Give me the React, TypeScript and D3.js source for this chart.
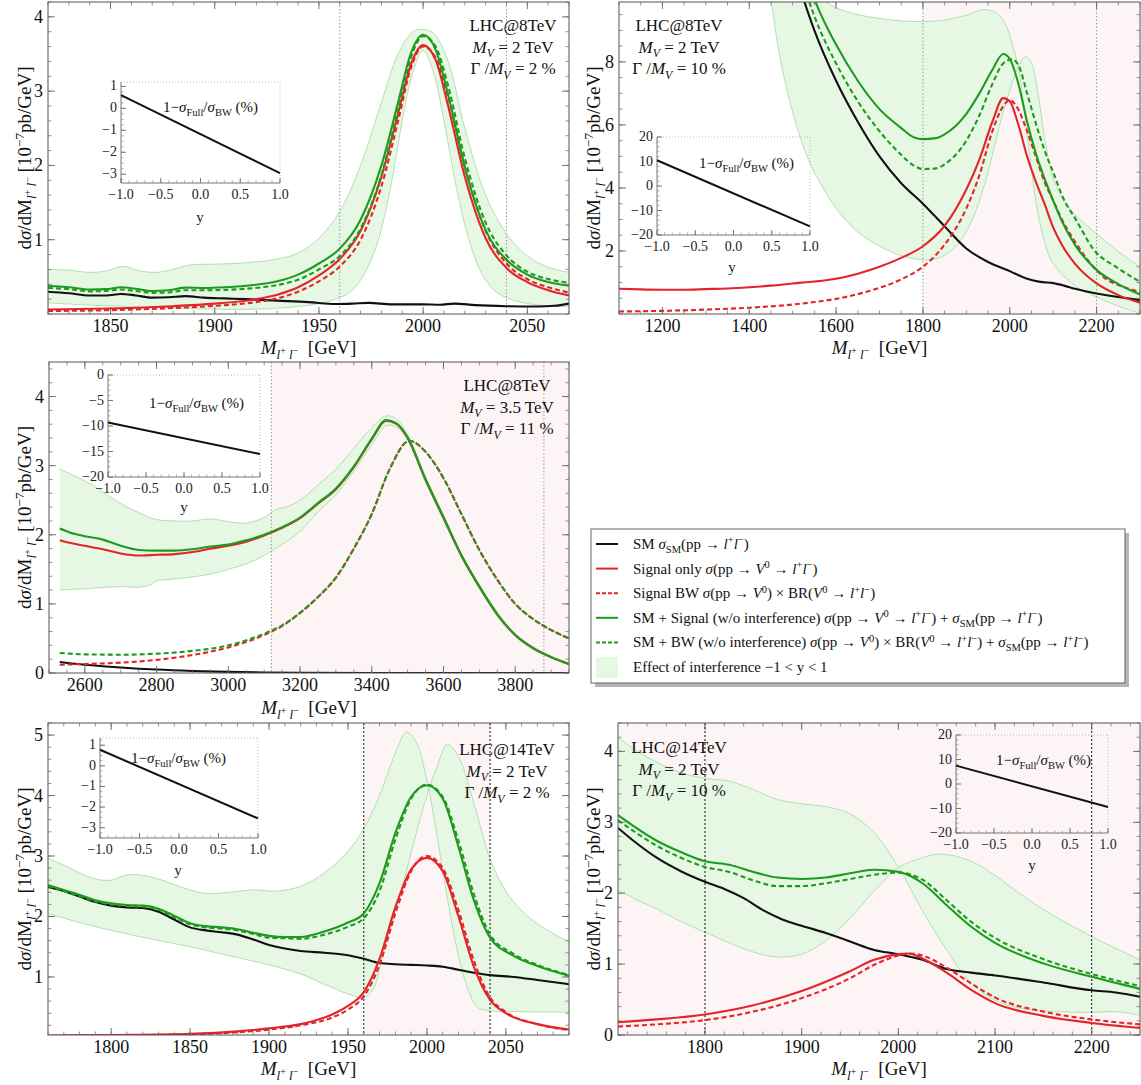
import React from 'react';
import * as d3 from 'd3';

type Pt = [number, number];
type Seg = { t: string; s?: 'sub' | 'sup' | 'ss'; i?: boolean };

const FONT = "'Liberation Serif', 'Times New Roman', serif";
const RED = '#e4232a';
const GREEN = '#1e9b1e';
const BLACK = '#111111';
const BAND_FILL = '#e6f8e4';
const BAND_STROKE = '#a9dca9';
const PINK = '#fdf5f5';

// ---------------- Panel 1: LHC@8TeV, MV=2TeV, 2% ----------------
const p1XTicks = [1850, 1900, 1950, 2000, 2050];
const p1YTicks = [1, 2, 3, 4];
const p1Black: Pt[] = [[1820,0.30],[1830,0.28],[1840,0.25],[1848,0.25],[1855,0.27],[1862,0.25],[1870,0.22],[1878,0.225],[1886,0.24],[1895,0.22],[1905,0.21],[1915,0.2],[1930,0.18],[1945,0.16],[1958,0.135],[1966,0.14],[1974,0.15],[1985,0.13],[2000,0.13],[2008,0.125],[2015,0.14],[2025,0.12],[2040,0.105],[2055,0.1],[2063,0.11],[2070,0.14]];
const p1Red: Pt[] = [[1820,0.06],[1850,0.075],[1880,0.105],[1900,0.14],[1920,0.2],[1930,0.26],[1940,0.36],[1950,0.52],[1960,0.74],[1970,1.12],[1980,1.85],[1988,2.7],[1994,3.35],[2000,3.62],[2006,3.42],[2012,2.8],[2020,1.85],[2030,1.02],[2040,0.62],[2050,0.43],[2060,0.32],[2070,0.25]];
const p1RedBW: Pt[] = [[1820,0.04],[1850,0.052],[1880,0.08],[1900,0.11],[1920,0.16],[1930,0.21],[1940,0.3],[1950,0.44],[1960,0.64],[1970,1.0],[1980,1.72],[1988,2.6],[1994,3.3],[2000,3.6],[2006,3.45],[2012,2.92],[2020,1.98],[2030,1.12],[2040,0.68],[2050,0.47],[2060,0.36],[2070,0.29]];
const p1Green: Pt[] = [[1820,0.38],[1830,0.36],[1840,0.33],[1848,0.335],[1855,0.36],[1862,0.34],[1870,0.31],[1878,0.32],[1886,0.355],[1895,0.35],[1905,0.36],[1915,0.38],[1930,0.44],[1940,0.53],[1950,0.68],[1960,0.88],[1970,1.27],[1980,2.0],[1988,2.85],[1994,3.5],[2000,3.76],[2006,3.56],[2012,2.95],[2020,1.98],[2030,1.13],[2040,0.73],[2050,0.53],[2060,0.43],[2070,0.38]];
const p1GreenBW: Pt[] = [[1820,0.35],[1830,0.335],[1840,0.305],[1848,0.31],[1855,0.33],[1862,0.31],[1870,0.285],[1878,0.29],[1886,0.32],[1895,0.32],[1905,0.325],[1915,0.34],[1930,0.39],[1940,0.46],[1950,0.6],[1960,0.78],[1970,1.15],[1980,1.87],[1988,2.75],[1994,3.44],[2000,3.74],[2006,3.6],[2012,3.07],[2020,2.1],[2030,1.23],[2040,0.79],[2050,0.57],[2060,0.47],[2070,0.42]];
const p1BandA: Pt[] = [[1820,0.6],[1830,0.59],[1840,0.56],[1848,0.58],[1856,0.64],[1864,0.58],[1872,0.56],[1880,0.6],[1888,0.66],[1900,0.67],[1915,0.69],[1930,0.74],[1940,0.82],[1950,1.02],[1960,1.38],[1970,2.0],[1980,2.85],[1988,3.5],[1995,3.8],[2000,3.83],[2005,3.78],[2012,3.4],[2020,2.5],[2030,1.6],[2040,1.08],[2050,0.78],[2060,0.63],[2070,0.56]];
const p1BandB: Pt[] = [[1820,0.15],[1840,0.12],[1860,0.1],[1880,0.08],[1900,0.065],[1920,0.065],[1940,0.1],[1950,0.14],[1960,0.22],[1966,0.32],[1972,0.55],[1978,0.95],[1984,1.65],[1990,2.6],[1995,3.25],[2000,3.55],[2005,3.25],[2010,2.6],[2016,1.7],[2022,1.0],[2028,0.55],[2034,0.32],[2040,0.22],[2050,0.14],[2060,0.11],[2070,0.1]];
const p1Inset = [0.6, -2.95];

// ---------------- Panel 2: LHC@8TeV, MV=2TeV, 10% ----------------
const p2XTicks = [1200, 1400, 1600, 1800, 2000, 2200];
const p2YTicks = [2, 4, 6, 8];
const p2Black: Pt[] = [[1500,11.2],[1525,10.0],[1550,9.0],[1600,7.4],[1650,6.1],[1700,5.0],[1750,4.15],[1800,3.5],[1850,2.78],[1900,2.08],[1950,1.65],[2000,1.36],[2040,1.12],[2070,1.02],[2100,0.98],[2125,0.9],[2150,0.8],[2200,0.65],[2250,0.54],[2300,0.44]];
const p2Red: Pt[] = [[1100,0.8],[1150,0.78],[1200,0.77],[1250,0.77],[1300,0.79],[1350,0.81],[1400,0.85],[1450,0.9],[1500,0.97],[1550,1.03],[1600,1.12],[1650,1.28],[1700,1.5],[1750,1.78],[1800,2.15],[1850,2.8],[1900,3.95],[1930,4.9],[1960,6.1],[1985,6.85],[2000,6.75],[2020,6.0],[2040,5.0],[2060,4.2],[2080,3.5],[2100,2.75],[2120,2.2],[2150,1.6],[2200,0.97],[2250,0.6],[2300,0.36]];
const p2RedBW: Pt[] = [[1100,0.08],[1200,0.1],[1300,0.14],[1400,0.2],[1500,0.3],[1550,0.38],[1600,0.48],[1650,0.63],[1700,0.83],[1750,1.1],[1800,1.5],[1850,2.2],[1900,3.35],[1930,4.4],[1960,5.8],[1985,6.6],[2000,6.78],[2015,6.6],[2040,5.8],[2060,5.0],[2080,4.2],[2100,3.6],[2120,3.0],[2150,2.3],[2200,1.38],[2225,1.08],[2250,0.92],[2300,0.7]];
const p2Green: Pt[] = [[1500,12.3],[1550,10.0],[1600,8.55],[1650,7.4],[1700,6.5],[1750,5.9],[1780,5.6],[1800,5.55],[1830,5.58],[1850,5.7],[1900,6.35],[1930,7.0],[1960,7.75],[1985,8.25],[2000,8.1],[2020,7.3],[2040,6.1],[2060,5.1],[2080,4.3],[2100,3.6],[2120,2.95],[2150,2.2],[2200,1.4],[2250,0.95],[2300,0.62]];
const p2GreenBW: Pt[] = [[1500,11.6],[1550,9.45],[1600,7.95],[1650,6.75],[1700,5.8],[1750,5.05],[1780,4.7],[1800,4.6],[1830,4.62],[1850,4.75],[1900,5.5],[1930,6.3],[1960,7.3],[1985,7.95],[2005,8.08],[2020,7.9],[2040,7.0],[2060,6.05],[2080,5.2],[2100,4.5],[2124,3.65],[2150,3.05],[2193,2.05],[2250,1.45],[2300,1.02]];
const p2BandA: Pt[] = [[1540,10.6],[1570,10.0],[1600,9.72],[1650,9.5],[1700,9.38],[1750,9.3],[1800,9.28],[1850,9.33],[1900,9.48],[1940,9.66],[1970,9.55],[1990,9.2],[2005,8.6],[2020,7.8],[2030,6.9],[2040,5.7],[2060,3.6],[2080,2.3],[2100,1.6],[2150,0.9],[2200,0.54],[2250,0.25],[2300,0.02]];
const p2BandB: Pt[] = [[1430,12.0],[1450,10.0],[1470,8.2],[1500,6.4],[1525,5.3],[1550,4.5],[1600,3.35],[1650,2.6],[1700,2.15],[1750,1.85],[1800,1.72],[1830,1.75],[1860,1.95],[1890,2.4],[1920,3.2],[1950,4.5],[1975,5.9],[2000,7.1],[2020,7.85],[2036,8.17],[2050,7.95],[2065,7.0],[2080,5.6],[2100,4.3],[2125,3.6],[2150,3.15],[2200,2.55],[2250,1.98],[2300,1.5]];
const p2Inset = [10.5, -16.5];

// ---------------- Panel 3: LHC@8TeV, MV=3.5TeV, 11% ----------------
const p3XTicks = [2600, 2800, 3000, 3200, 3400, 3600, 3800];
const p3YTicks = [0, 1, 2, 3, 4];
const p3Black: Pt[] = [[2530,0.16],[2600,0.12],[2700,0.08],[2800,0.05],[2900,0.03],[3000,0.016],[3100,0.008],[3200,0.004],[3400,0.001],[3950,0.0]];
const p3Red: Pt[] = [[2530,1.92],[2560,1.88],[2600,1.84],[2650,1.79],[2700,1.73],[2750,1.7],[2800,1.71],[2850,1.72],[2900,1.75],[2950,1.8],[3000,1.84],[3050,1.9],[3100,1.99],[3150,2.1],[3200,2.24],[3250,2.45],[3300,2.66],[3350,2.98],[3400,3.38],[3440,3.65],[3470,3.6],[3500,3.4],[3550,2.8],[3600,2.25],[3650,1.7],[3700,1.25],[3750,0.85],[3800,0.55],[3850,0.36],[3900,0.23],[3950,0.13]];
const p3RedBW: Pt[] = [[2530,0.12],[2600,0.13],[2700,0.15],[2800,0.19],[2900,0.26],[3000,0.37],[3100,0.55],[3150,0.68],[3200,0.87],[3250,1.1],[3300,1.38],[3350,1.8],[3400,2.3],[3450,2.95],[3505,3.36],[3550,3.2],[3600,2.82],[3650,2.3],[3700,1.78],[3750,1.35],[3800,1.0],[3850,0.78],[3880,0.68],[3950,0.5]];
const p3Green: Pt[] = [[2530,2.09],[2560,2.03],[2600,1.98],[2650,1.93],[2700,1.84],[2750,1.78],[2800,1.77],[2850,1.77],[2900,1.79],[2950,1.83],[3000,1.86],[3050,1.92],[3100,2.0],[3150,2.11],[3200,2.25],[3250,2.46],[3300,2.67],[3350,2.99],[3400,3.39],[3440,3.66],[3470,3.61],[3500,3.41],[3550,2.8],[3600,2.25],[3650,1.7],[3700,1.25],[3750,0.85],[3800,0.55],[3850,0.36],[3900,0.23],[3950,0.13]];
const p3GreenBW: Pt[] = [[2530,0.29],[2600,0.27],[2700,0.265],[2800,0.28],[2900,0.32],[3000,0.4],[3100,0.57],[3150,0.69],[3200,0.87],[3250,1.1],[3300,1.38],[3350,1.8],[3400,2.3],[3450,2.95],[3505,3.36],[3550,3.2],[3600,2.82],[3650,2.3],[3700,1.78],[3750,1.35],[3800,1.0],[3850,0.78],[3880,0.68],[3950,0.5]];
const p3BandA: Pt[] = [[2530,2.95],[2560,2.88],[2600,2.78],[2650,2.62],[2700,2.45],[2750,2.32],[2800,2.22],[2850,2.2],[2900,2.2],[2950,2.23],[3000,2.19],[3050,2.17],[3100,2.25],[3130,2.36],[3160,2.4],[3200,2.5],[3250,2.72],[3300,2.95],[3350,3.25],[3400,3.55],[3440,3.72],[3470,3.67],[3500,3.45],[3550,2.84],[3600,2.29],[3650,1.73],[3700,1.28],[3750,0.88],[3800,0.57],[3850,0.38],[3900,0.245],[3950,0.14]];
const p3BandB: Pt[] = [[2530,1.2],[2600,1.22],[2700,1.25],[2750,1.24],[2780,1.27],[2800,1.33],[2850,1.36],[2900,1.39],[2950,1.43],[3000,1.5],[3050,1.58],[3100,1.7],[3150,1.86],[3200,2.05],[3250,2.33],[3300,2.58],[3350,2.92],[3400,3.3],[3440,3.58],[3470,3.55],[3500,3.37],[3550,2.76],[3600,2.21],[3650,1.67],[3700,1.22],[3750,0.82],[3800,0.53],[3850,0.34],[3900,0.215],[3950,0.12]];
const p3Inset = [-9.3, -15.5];

// ---------------- Panel 4: LHC@14TeV, MV=2TeV, 2% ----------------
const p4XTicks = [1800, 1850, 1900, 1950, 2000, 2050];
const p4YTicks = [1, 2, 3, 4, 5];
const p4Black: Pt[] = [[1760,2.49],[1770,2.42],[1780,2.33],[1790,2.24],[1800,2.18],[1810,2.15],[1820,2.14],[1830,2.08],[1840,1.95],[1850,1.82],[1860,1.77],[1870,1.74],[1880,1.7],[1890,1.62],[1900,1.53],[1910,1.47],[1920,1.43],[1935,1.4],[1950,1.36],[1960,1.3],[1970,1.23],[1980,1.21],[1990,1.2],[2000,1.19],[2010,1.17],[2020,1.12],[2030,1.07],[2040,1.03],[2055,1.0],[2070,0.95],[2090,0.88]];
const p4Red: Pt[] = [[1760,0.03],[1800,0.04],[1850,0.06],[1880,0.1],[1900,0.15],[1920,0.22],[1940,0.38],[1950,0.52],[1960,0.75],[1970,1.3],[1980,2.15],[1990,2.78],[2000,2.97],[2010,2.75],[2020,2.0],[2030,1.15],[2040,0.62],[2050,0.4],[2070,0.22],[2090,0.13]];
const p4RedBW: Pt[] = [[1760,0.02],[1800,0.03],[1850,0.05],[1880,0.085],[1900,0.13],[1920,0.2],[1940,0.33],[1950,0.46],[1960,0.68],[1970,1.2],[1980,2.05],[1990,2.75],[2000,3.0],[2010,2.8],[2020,2.1],[2030,1.25],[2040,0.66],[2050,0.42],[2070,0.22],[2090,0.12]];
const p4Green: Pt[] = [[1760,2.52],[1770,2.44],[1780,2.36],[1790,2.27],[1800,2.22],[1810,2.19],[1820,2.18],[1830,2.13],[1840,2.01],[1850,1.89],[1860,1.84],[1870,1.82],[1880,1.79],[1890,1.73],[1900,1.68],[1910,1.66],[1920,1.66],[1935,1.75],[1950,1.9],[1960,2.05],[1970,2.55],[1980,3.38],[1990,3.98],[2000,4.17],[2010,3.95],[2020,3.15],[2030,2.25],[2040,1.65],[2055,1.35],[2070,1.18],[2090,1.02]];
const p4GreenBW: Pt[] = [[1760,2.5],[1770,2.42],[1780,2.34],[1790,2.25],[1800,2.2],[1810,2.17],[1820,2.16],[1830,2.11],[1840,1.99],[1850,1.87],[1860,1.82],[1870,1.8],[1880,1.77],[1890,1.71],[1900,1.65],[1910,1.64],[1920,1.63],[1935,1.7],[1950,1.83],[1960,1.97],[1970,2.42],[1980,3.27],[1990,3.95],[2000,4.18],[2010,3.98],[2020,3.25],[2030,2.35],[2040,1.7],[2055,1.38],[2070,1.2],[2090,1.03]];
const p4BandA: Pt[] = [[1760,2.96],[1770,2.85],[1780,2.72],[1790,2.62],[1800,2.6],[1810,2.69],[1820,2.68],[1830,2.62],[1845,2.48],[1860,2.38],[1875,2.4],[1890,2.44],[1905,2.42],[1920,2.5],[1935,2.72],[1950,3.08],[1960,3.45],[1970,4.0],[1980,4.7],[1987,5.05],[1993,4.9],[2000,4.25],[2006,3.4],[2012,2.45],[2020,1.35],[2026,0.8],[2032,0.5],[2040,0.44],[2055,0.43],[2070,0.42],[2090,0.42]];
const p4BandB: Pt[] = [[1760,2.05],[1780,1.9],[1800,1.77],[1825,1.63],[1850,1.5],[1875,1.35],[1900,1.2],[1920,1.05],[1935,0.88],[1950,0.72],[1960,0.66],[1966,0.8],[1972,1.35],[1980,2.1],[1987,2.75],[1994,3.45],[2000,4.0],[2006,4.45],[2013,4.85],[2020,4.65],[2030,3.85],[2040,2.95],[2050,2.42],[2060,2.1],[2070,1.88],[2080,1.72],[2090,1.58]];
const p4Inset = [0.78, -2.55];

// ---------------- Panel 5: LHC@14TeV, MV=2TeV, 10% ----------------
const p5XTicks = [1800, 1900, 2000, 2100, 2200];
const p5YTicks = [0, 1, 2, 3, 4];
const p5Black: Pt[] = [[1710,2.92],[1725,2.75],[1750,2.5],[1775,2.31],[1800,2.16],[1820,2.06],[1840,1.93],[1860,1.76],[1880,1.63],[1900,1.54],[1925,1.44],[1950,1.32],[1975,1.2],[2000,1.14],[2025,1.06],[2050,0.93],[2075,0.88],[2100,0.84],[2150,0.74],[2200,0.63],[2225,0.6],[2250,0.54]];
const p5Red: Pt[] = [[1710,0.18],[1750,0.22],[1800,0.29],[1850,0.42],[1900,0.62],[1950,0.9],[1975,1.06],[2000,1.14],[2010,1.15],[2025,1.08],[2050,0.88],[2075,0.64],[2100,0.45],[2150,0.27],[2200,0.17],[2250,0.1]];
const p5RedBW: Pt[] = [[1710,0.12],[1750,0.15],[1800,0.21],[1850,0.33],[1900,0.52],[1950,0.8],[1975,0.99],[2000,1.12],[2012,1.15],[2025,1.12],[2050,0.95],[2075,0.73],[2100,0.53],[2150,0.33],[2200,0.22],[2250,0.15]];
const p5Green: Pt[] = [[1710,3.1],[1750,2.74],[1775,2.58],[1800,2.45],[1825,2.4],[1850,2.3],[1875,2.22],[1900,2.2],[1925,2.22],[1950,2.28],[1975,2.33],[2000,2.3],[2025,2.14],[2050,1.83],[2075,1.53],[2100,1.3],[2150,1.01],[2200,0.82],[2250,0.65]];
const p5GreenBW: Pt[] = [[1710,3.03],[1750,2.67],[1775,2.5],[1800,2.37],[1825,2.3],[1850,2.18],[1875,2.1],[1900,2.1],[1925,2.14],[1950,2.2],[1975,2.26],[2000,2.29],[2025,2.19],[2050,1.9],[2075,1.6],[2100,1.37],[2150,1.07],[2200,0.86],[2250,0.69]];
const p5BandA: Pt[] = [[1710,4.2],[1730,4.0],[1750,3.85],[1775,3.7],[1800,3.62],[1825,3.58],[1850,3.46],[1875,3.32],[1900,3.26],[1925,3.22],[1950,3.12],[1975,2.85],[2000,2.37],[2025,1.75],[2050,1.2],[2075,0.73],[2100,0.49],[2125,0.38],[2150,0.34],[2200,0.32],[2225,0.33],[2250,0.28]];
const p5BandB: Pt[] = [[1710,2.05],[1730,1.9],[1750,1.78],[1775,1.6],[1800,1.45],[1825,1.3],[1850,1.17],[1875,1.1],[1900,1.14],[1925,1.33],[1950,1.65],[1975,2.03],[2000,2.36],[2025,2.5],[2040,2.55],[2060,2.52],[2080,2.42],[2100,2.25],[2125,2.0],[2150,1.77],[2200,1.39],[2250,1.06]];
const p5Inset = [7.5, -9.4];

const insetX = [-1, 1];
const insetXTicks = [-1, -0.5, 0, 0.5, 1];

// ---------------- text helpers ----------------
function Rich(props: { x: number; y: number; segs: Seg[]; size: number; anchor?: string; transform?: string; fill?: string }) {
  const { x, y, segs, size, anchor = 'start', transform, fill = '#111' } = props;
  let cur = 0;
  return (
    <text x={x} y={y} fontSize={size} textAnchor={anchor} transform={transform} fill={fill} fontFamily={FONT} style={{ whiteSpace: 'pre' }}>
      {segs.map((sg, k) => {
        const target = sg.s === 'sub' ? size * 0.27 : sg.s === 'sup' ? -size * 0.38 : sg.s === 'ss' ? size * 0.0 : 0;
        const dy = target - cur;
        cur = target;
        const fs = sg.s === 'ss' ? size * 0.52 : sg.s ? size * 0.7 : size;
        return (
          <tspan key={k} dy={dy} fontSize={fs} fontStyle={sg.i ? 'italic' : 'normal'}>{sg.t}</tspan>
        );
      })}
    </text>
  );
}

const xLabelSegs: Seg[] = [{ t: 'M', i: true }, { t: 'l', s: 'sub', i: true }, { t: '+', s: 'ss' }, { t: ' l', s: 'sub', i: true }, { t: '−', s: 'ss' }, { t: '  [GeV]' }];
const yLabelSegs: Seg[] = [{ t: 'd' }, { t: 'σ', i: true }, { t: '/dM' }, { t: 'l', s: 'sub', i: true }, { t: '+', s: 'ss' }, { t: ' l', s: 'sub', i: true }, { t: '−', s: 'ss' }, { t: ' [10' }, { t: '−7', s: 'sup' }, { t: 'pb/GeV]' }];
const insetLabelSegs: Seg[] = [{ t: '1−' }, { t: 'σ', i: true }, { t: 'Full', s: 'sub' }, { t: '/' }, { t: 'σ', i: true }, { t: 'BW', s: 'sub' }, { t: ' (%)' }];

function infoLines(energy: string, mass: string, width: string): Seg[][] {
  return [
    [{ t: energy }],
    [{ t: 'M', i: true }, { t: 'V', s: 'sub', i: true }, { t: ' = ' + mass }],
    [{ t: 'Γ /' }, { t: 'M', i: true }, { t: 'V', s: 'sub', i: true }, { t: ' = ' + width }],
  ];
}

const fmtY = (v: number) => (v < 0 ? '−' + Math.abs(v) : String(v));
const fmtX = (v: number) => (v < 0 ? '−' : '') + Math.abs(v).toFixed(1);

type InsetCfg = { L: number; T: number; R: number; B: number; yd: [number, number]; yTicks: number[]; yMinor: number; vals: number[]; lx: number; ly: number; yx: number; yy: number };

function Inset({ c }: { c: InsetCfg }) {
  const xs = d3.scaleLinear().domain([-1, 1]).range([c.L, c.R]);
  const ys = d3.scaleLinear().domain(c.yd).range([c.B, c.T]);
  const pts: Pt[] = insetX.map((x, i) => [x, c.vals[i]]);
  const ln = d3.line<Pt>().x(d => xs(d[0])).y(d => ys(d[1]));
  const yMin = d3.range(Math.ceil(c.yd[0] / c.yMinor) * c.yMinor, c.yd[1] + 1e-9, c.yMinor);
  const xMin = d3.range(-1, 1.0001, 0.1);
  return (
    <g>
      <line x1={c.L} x2={c.R} y1={c.T} y2={c.T} stroke="#bbb" strokeDasharray="1,2" />
      <line x1={c.R} x2={c.R} y1={c.T} y2={c.B} stroke="#bbb" strokeDasharray="1,2" />
      <line x1={c.L} x2={c.L} y1={c.T} y2={c.B} stroke="#777" />
      <line x1={c.L} x2={c.R} y1={c.B} y2={c.B} stroke="#777" />
      {yMin.map((v, k) => <line key={'ym' + k} x1={c.L} x2={c.L + 2.5} y1={ys(v)} y2={ys(v)} stroke="#888" strokeWidth={0.7} />)}
      {c.yTicks.map(v => <line key={'yt' + v} x1={c.L} x2={c.L + 5} y1={ys(v)} y2={ys(v)} stroke="#777" />)}
      {xMin.map((v, k) => <line key={'xm' + k} x1={xs(v)} x2={xs(v)} y1={c.B} y2={c.B - 2.5} stroke="#888" strokeWidth={0.7} />)}
      {insetXTicks.map(v => <line key={'xt' + v} x1={xs(v)} x2={xs(v)} y1={c.B} y2={c.B - 5} stroke="#777" />)}
      {c.yTicks.map(v => <text key={'yl' + v} x={c.L - 4} y={ys(v) + 4} fontSize={14} textAnchor="end" fontFamily={FONT} fill="#222">{fmtY(v)}</text>)}
      {insetXTicks.map(v => <text key={'xl' + v} x={xs(v)} y={c.B + 16} fontSize={14} textAnchor="middle" fontFamily={FONT} fill="#222">{fmtX(v)}</text>)}
      <path d={ln(pts) || ''} stroke={BLACK} strokeWidth={2} fill="none" />
      <Rich x={c.lx} y={c.ly} segs={insetLabelSegs} size={15} />
      <text x={c.yx} y={c.yy} fontSize={15} textAnchor="middle" fontFamily={FONT} fill="#222">y</text>
    </g>
  );
}

type PanelCfg = {
  id: string; L: number; T: number; R: number; B: number;
  xd: [number, number]; yd: [number, number];
  xTicks: number[]; xMinor: number; yTicks: number[]; yMinor: number;
  dotted: number[]; dark: boolean; pink?: [number, number];
  black: Pt[]; red: Pt[]; redBW: Pt[]; green: Pt[]; greenBW: Pt[]; bandA: Pt[]; bandB: Pt[];
  inset: InsetCfg; info: Seg[][]; infoX: number; infoY: number;
  yLabelX: number; xLabelY: number;
};

function Panel({ c }: { c: PanelCfg }) {
  const xs = d3.scaleLinear().domain(c.xd).range([c.L, c.R]);
  const ys = d3.scaleLinear().domain(c.yd).range([c.B, c.T]);
  const line = d3.line<Pt>().x(d => xs(d[0])).y(d => ys(d[1])).curve(d3.curveMonotoneX);
  const cr = d3.line<Pt>().x(d => xs(d[0])).y(d => ys(d[1])).curve(d3.curveCatmullRom.alpha(0.5));
  const pa = cr(c.bandA) || '';
  const pb = cr([...c.bandB].reverse()) || '';
  const bandPath = pa + 'L' + pb.slice(1) + 'Z';
  const xMin = d3.range(Math.ceil(c.xd[0] / c.xMinor) * c.xMinor, c.xd[1] + 1e-9, c.xMinor);
  const yMin = d3.range(Math.ceil(c.yd[0] / c.yMinor - 1e-9) * c.yMinor, c.yd[1] + 1e-9, c.yMinor);
  const clip = 'clip-' + c.id;
  const tick = '#666';
  const cy = (c.T + c.B) / 2;
  return (
    <g>
      <defs>
        <clipPath id={clip}><rect x={c.L} y={c.T} width={c.R - c.L} height={c.B - c.T} /></clipPath>
      </defs>
      <g clipPath={`url(#${clip})`}>
        {c.pink && <rect x={xs(c.pink[0])} y={c.T} width={xs(c.pink[1]) - xs(c.pink[0])} height={c.B - c.T} fill={PINK} />}
        <path d={bandPath} fill={BAND_FILL} stroke="none" />
        <path d={pa} fill="none" stroke={BAND_STROKE} strokeWidth={0.9} />
        <path d={cr(c.bandB) || ''} fill="none" stroke={BAND_STROKE} strokeWidth={0.9} />
        {c.dotted.map(v => (
          <line key={'d' + v} x1={xs(v)} x2={xs(v)} y1={c.T} y2={c.B} stroke={c.dark ? '#222' : '#999'} strokeWidth={c.dark ? 1.1 : 1} strokeDasharray={c.dark ? '2,2' : '1.5,2'} />
        ))}
        <path d={line(c.black) || ''} fill="none" stroke={BLACK} strokeWidth={2.1} />
        <path d={line(c.red) || ''} fill="none" stroke={RED} strokeWidth={2.1} />
        <path d={line(c.redBW) || ''} fill="none" stroke={RED} strokeWidth={2.1} strokeDasharray="5,3" />
        <path d={line(c.green) || ''} fill="none" stroke={GREEN} strokeWidth={2.1} />
        <path d={line(c.greenBW) || ''} fill="none" stroke={GREEN} strokeWidth={2.1} strokeDasharray="5,3" />
      </g>
      <rect x={c.L} y={c.T} width={c.R - c.L} height={c.B - c.T} fill="none" stroke="#555" strokeWidth={1} />
      {xMin.map((v, k) => (
        <g key={'xm' + k}>
          <line x1={xs(v)} x2={xs(v)} y1={c.B} y2={c.B - 3.5} stroke={tick} strokeWidth={0.7} />
          <line x1={xs(v)} x2={xs(v)} y1={c.T} y2={c.T + 3.5} stroke={tick} strokeWidth={0.7} />
        </g>
      ))}
      {c.xTicks.map(v => (
        <g key={'xt' + v}>
          <line x1={xs(v)} x2={xs(v)} y1={c.B} y2={c.B - 7} stroke={tick} strokeWidth={0.9} />
          <line x1={xs(v)} x2={xs(v)} y1={c.T} y2={c.T + 7} stroke={tick} strokeWidth={0.9} />
          <text x={xs(v)} y={c.B + 18} fontSize={18} textAnchor="middle" fontFamily={FONT} fill="#111">{v}</text>
        </g>
      ))}
      {yMin.map((v, k) => (
        <g key={'ym' + k}>
          <line x1={c.L} x2={c.L + 3.5} y1={ys(v)} y2={ys(v)} stroke={tick} strokeWidth={0.7} />
          <line x1={c.R} x2={c.R - 3.5} y1={ys(v)} y2={ys(v)} stroke={tick} strokeWidth={0.7} />
        </g>
      ))}
      {c.yTicks.map(v => (
        <g key={'yt' + v}>
          <line x1={c.L} x2={c.L + 7} y1={ys(v)} y2={ys(v)} stroke={tick} strokeWidth={0.9} />
          <line x1={c.R} x2={c.R - 7} y1={ys(v)} y2={ys(v)} stroke={tick} strokeWidth={0.9} />
          <text x={c.L - 5} y={ys(v) + 6} fontSize={18} textAnchor="end" fontFamily={FONT} fill="#111">{v}</text>
        </g>
      ))}
      <Inset c={c.inset} />
      {c.info.map((segs, k) => (
        <Rich key={'info' + k} x={c.infoX} y={c.infoY + k * 21.5} segs={segs} size={17} anchor="middle" />
      ))}
      <Rich x={c.yLabelX} y={cy} segs={yLabelSegs} size={19} anchor="middle" transform={`rotate(-90, ${c.yLabelX}, ${cy})`} />
      <Rich x={(c.L + c.R) / 2} y={c.xLabelY} segs={xLabelSegs} size={19} anchor="middle" />
    </g>
  );
}

const panels: PanelCfg[] = [
  {
    id: 'p1', L: 48, T: 2, R: 569, B: 314, xd: [1820, 2070], yd: [0, 4.2],
    xTicks: p1XTicks, xMinor: 10, yTicks: p1YTicks, yMinor: 0.2, dotted: [1960, 2040], dark: false,
    black: p1Black, red: p1Red, redBW: p1RedBW, green: p1Green, greenBW: p1GreenBW, bandA: p1BandA, bandB: p1BandB,
    inset: { L: 121, T: 82, R: 280, B: 183, yd: [-3.4, 1.2], yTicks: [1, 0, -1, -2, -3], yMinor: 0.25, vals: p1Inset, lx: 163, ly: 112, yx: 200, yy: 222 },
    info: infoLines('LHC@8TeV', '2 TeV', '2 %'), infoX: 513, infoY: 31, yLabelX: 31, xLabelY: 354,
  },
  {
    id: 'p2', L: 619, T: 2, R: 1140, B: 314, xd: [1100, 2300], yd: [0, 9.9],
    xTicks: p2XTicks, xMinor: 50, yTicks: p2YTicks, yMinor: 0.5, dotted: [1800, 2200], dark: false, pink: [1800, 2300],
    black: p2Black, red: p2Red, redBW: p2RedBW, green: p2Green, greenBW: p2GreenBW, bandA: p2BandA, bandB: p2BandB,
    inset: { L: 657, T: 137, R: 810, B: 235, yd: [-20, 20], yTicks: [20, 10, 0, -10, -20], yMinor: 2, vals: p2Inset, lx: 699, ly: 168, yx: 732, yy: 272 },
    info: infoLines('LHC@8TeV', '2 TeV', '10 %'), infoX: 679, infoY: 31, yLabelX: 600, xLabelY: 354,
  },
  {
    id: 'p3', L: 49, T: 362, R: 569, B: 673, xd: [2500, 3950], yd: [0, 4.5],
    xTicks: p3XTicks, xMinor: 50, yTicks: p3YTicks, yMinor: 0.2, dotted: [3120, 3880], dark: false, pink: [3120, 3950],
    black: p3Black, red: p3Red, redBW: p3RedBW, green: p3Green, greenBW: p3GreenBW, bandA: p3BandA, bandB: p3BandB,
    inset: { L: 108, T: 375, R: 260, B: 477, yd: [-20, 0], yTicks: [0, -5, -10, -15, -20], yMinor: 1, vals: p3Inset, lx: 149, ly: 408, yx: 184, yy: 512 },
    info: infoLines('LHC@8TeV', '3.5 TeV', '11 %'), infoX: 507, infoY: 391, yLabelX: 31, xLabelY: 714,
  },
  {
    id: 'p4', L: 48, T: 723, R: 569, B: 1035, xd: [1760, 2090], yd: [0.04, 5.2],
    xTicks: p4XTicks, xMinor: 10, yTicks: p4YTicks, yMinor: 0.2, dotted: [1960, 2040], dark: true, pink: [1960, 2040],
    black: p4Black, red: p4Red, redBW: p4RedBW, green: p4Green, greenBW: p4GreenBW, bandA: p4BandA, bandB: p4BandB,
    inset: { L: 100, T: 738, R: 258, B: 838, yd: [-3.5, 1.35], yTicks: [1, 0, -1, -2, -3], yMinor: 0.25, vals: p4Inset, lx: 131, ly: 763, yx: 178, yy: 875 },
    info: infoLines('LHC@14TeV', '2 TeV', '2 %'), infoX: 507, infoY: 755, yLabelX: 31, xLabelY: 1075,
  },
  {
    id: 'p5', L: 618, T: 723, R: 1140, B: 1035, xd: [1710, 2250], yd: [0, 4.4],
    xTicks: p5XTicks, xMinor: 20, yTicks: p5YTicks, yMinor: 0.2, dotted: [1800, 2200], dark: true, pink: [1710, 2250],
    black: p5Black, red: p5Red, redBW: p5RedBW, green: p5Green, greenBW: p5GreenBW, bandA: p5BandA, bandB: p5BandB,
    inset: { L: 956, T: 735, R: 1108, B: 833, yd: [-20, 20], yTicks: [20, 10, 0, -10, -20], yMinor: 2, vals: p5Inset, lx: 996, ly: 765, yx: 1032, yy: 870 },
    info: infoLines('LHC@14TeV', '2 TeV', '10 %'), infoX: 679, infoY: 753, yLabelX: 600, xLabelY: 1075,
  },
];

// ---------------- legend ----------------
const ll: Seg[] = [{ t: 'l', i: true }, { t: '+', s: 'sup' }, { t: 'l', i: true }, { t: '−', s: 'sup' }];
const v0: Seg[] = [{ t: 'V', i: true }, { t: '0', s: 'sup' }];
const sig: Seg = { t: 'σ', i: true };
const legendItems: { kind: string; segs: Seg[] }[] = [
  { kind: 'black', segs: [{ t: 'SM ' }, sig, { t: 'SM', s: 'sub' }, { t: '(pp → ' }, ...ll, { t: ')' }] },
  { kind: 'red', segs: [{ t: 'Signal only ' }, sig, { t: '(pp → ' }, ...v0, { t: ' → ' }, ...ll, { t: ')' }] },
  { kind: 'redBW', segs: [{ t: 'Signal BW ' }, sig, { t: '(pp → ' }, ...v0, { t: ') × BR(' }, ...v0, { t: ' → ' }, ...ll, { t: ')' }] },
  { kind: 'green', segs: [{ t: 'SM + Signal (w/o interference) ' }, sig, { t: '(pp → ' }, ...v0, { t: ' → ' }, ...ll, { t: ') + ' }, sig, { t: 'SM', s: 'sub' }, { t: '(pp → ' }, ...ll, { t: ')' }] },
  { kind: 'greenBW', segs: [{ t: 'SM + BW (w/o interference) ' }, sig, { t: '(pp → ' }, ...v0, { t: ') × BR(' }, ...v0, { t: ' → ' }, ...ll, { t: ') + ' }, sig, { t: 'SM', s: 'sub' }, { t: '(pp → ' }, ...ll, { t: ')' }] },
  { kind: 'band', segs: [{ t: 'Effect of interference −1 < y < 1' }] },
];

function Legend() {
  const L = 591, T = 529, R = 1125, B = 683;
  const rowY = d3.scaleLinear().domain([0, 5]).range([544, 667]);
  return (
    <g>
      <rect x={L + 4} y={T + 4} width={R - L} height={B - T} fill="#b5b5b5" />
      <rect x={L} y={T} width={R - L} height={B - T} fill="#fff" stroke="#666" strokeWidth={1} />
      {legendItems.map((it, k) => {
        const y = rowY(k);
        let sample: React.ReactNode;
        if (it.kind === 'band') sample = <rect x={596} y={y - 10} width={22} height={21} fill={BAND_FILL} />;
        else {
          const col = it.kind === 'black' ? BLACK : it.kind.startsWith('red') ? RED : GREEN;
          sample = <line x1={596} x2={618} y1={y} y2={y} stroke={col} strokeWidth={2} strokeDasharray={it.kind.endsWith('BW') ? '4,2' : undefined} />;
        }
        return (
          <g key={k}>
            {sample}
            <Rich x={633} y={y + 5} segs={it.segs} size={15} />
          </g>
        );
      })}
    </g>
  );
}

export default function App() {
  return (
    <svg width={1141} height={1085} viewBox="0 0 1141 1085" style={{ position: 'absolute', left: 0, top: 0, background: '#fff' }} xmlns="http://www.w3.org/2000/svg">
      <rect x={0} y={0} width={1141} height={1085} fill="#fff" />
      {panels.map(p => <Panel key={p.id} c={p} />)}
      <Legend />
    </svg>
  );
}
